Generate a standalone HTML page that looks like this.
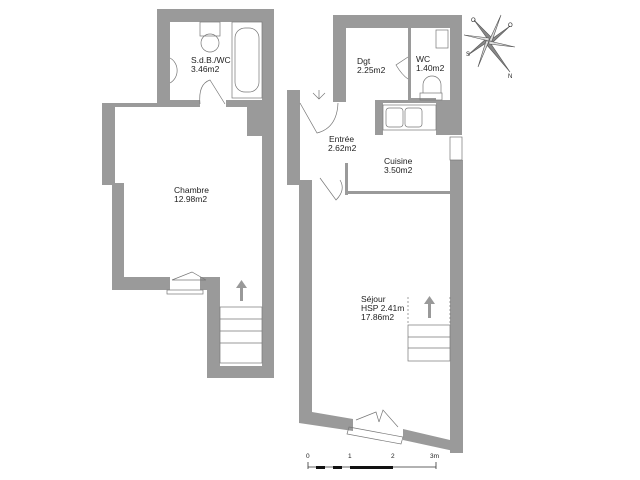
<!DOCTYPE html>
<html><head><meta charset="utf-8"><style>
body{margin:0;background:#fff}
svg{display:block}
text{font-family:"Liberation Sans",sans-serif;font-size:8.5px;fill:#222}
</style></head><body>
<svg width="640" height="480" viewBox="0 0 640 480">
<g fill="#9a9a9a">
<rect x="157" y="9" width="117" height="13"/>
<rect x="157" y="9" width="13" height="98"/>
<rect x="262" y="9" width="12" height="98"/>
<rect x="157" y="100" width="43" height="7"/>
<rect x="226" y="100" width="48" height="7"/>
<rect x="102" y="103" width="68" height="4"/>
<rect x="102" y="103" width="13" height="82"/>
<rect x="112" y="183" width="12" height="107"/>
<rect x="112" y="277" width="58" height="13"/>
<rect x="247" y="103" width="27" height="33"/>
<rect x="262" y="103" width="12" height="275"/>
<rect x="200" y="277" width="20" height="13"/>
<rect x="207" y="277" width="13" height="101"/>
<rect x="207" y="366" width="67" height="12"/>
<rect x="333" y="15" width="129" height="13"/>
<rect x="333" y="15" width="13" height="87"/>
<rect x="408" y="28" width="3" height="72"/>
<rect x="408" y="98" width="28" height="3"/>
<rect x="450" y="15" width="12" height="120"/>
<rect x="436" y="100" width="26" height="35"/>
<rect x="375" y="100" width="8" height="35"/>
<rect x="375" y="100" width="61" height="3"/>
<rect x="450" y="160" width="13" height="293"/>
<rect x="287" y="90" width="13" height="95"/>
<rect x="299" y="180" width="13" height="243"/>
<rect x="345" y="163" width="3" height="32"/>
<rect x="345" y="191" width="105" height="3"/>
<polygon points="299,410 312,412 353,419 353,431 299,423"/>
<polygon points="403,429 450,440 463,443 463,453 403,440"/>
</g>
<g fill="none" stroke="#777" stroke-width="0.7">
<rect x="232" y="22" width="30" height="76"/>
<rect x="235" y="28" width="24" height="64" rx="10"/>
<rect x="200" y="22" width="20" height="14"/>
<ellipse cx="210" cy="43" rx="9" ry="9"/>
<path d="M170,58 a13,14 0 0 1 0,25"/>
<path d="M200,104 q-2,-20 10,-24 l15,24"/>
<rect x="167" y="290" width="36" height="4"/>
<path d="M172,280 l20,-8 l14,8 M172,280 l34,0"/>
<rect x="220" y="307" width="42" height="56"/>
<line x1="220" y1="319" x2="262" y2="319"/><line x1="220" y1="331" x2="262" y2="331"/><line x1="220" y1="343" x2="262" y2="343"/>
<rect x="436" y="30" width="12" height="18"/>
<rect x="420" y="93" width="22" height="7"/>
<path d="M423,93 v-8 a9,9 0 0 1 18,0 v8"/>
<path d="M408,57 l-12,8 q6,10 12,14"/>
<rect x="383" y="105" width="53" height="25"/>
<rect x="386" y="108" width="17" height="19" rx="3"/><rect x="405" y="108" width="17" height="19" rx="3"/>
<path d="M300,103 l17,30 q20,-5 21,-30"/>
<path d="M320,178 l16,22 q10,-10 4,-20"/>
<path d="M313,93 l6,6 l6,-6 M319,99 v-9"/>
<rect x="450" y="137" width="12" height="23"/>
<rect x="408" y="325" width="42" height="36"/>
<line x1="408" y1="337" x2="450" y2="337"/><line x1="408" y1="348" x2="450" y2="348"/>
<line x1="408" y1="297" x2="408" y2="325" stroke-dasharray="2,2"/>
<line x1="450" y1="297" x2="450" y2="325" stroke-dasharray="2,2"/>
<polygon points="349,427 403,437 401,444 347,434"/>
<path d="M356,420 l20,-8 l3,10 M379,422 l4,-12 l15,17"/>
</g>
<g fill="#999">
<rect x="240" y="287" width="3" height="14"/><polygon points="236,288 247,288 241.5,280"/>
<rect x="428" y="303" width="3" height="15"/><polygon points="424,304 435,304 429.5,296"/>
</g>
<g stroke="#555" stroke-width="0.6" fill="#888">
<polygon points="489,41 474,20 492,38"/><polygon points="489,41 510,72 486,44"/>
<polygon points="489,41 510,26 491,44"/><polygon points="489,41 468,55 487,38"/>
<polygon points="489,41 501,15 492,41" fill="#ddd"/><polygon points="489,41 478,67 486,41" fill="#ddd"/>
<polygon points="489,41 515,47 489,44" fill="#ddd"/><polygon points="489,41 464,35 489,38" fill="#ddd"/>
</g>
<text x="471" y="22" style="font-size:6px">O</text><text x="508" y="27" style="font-size:6px">O</text>
<text x="466" y="56" style="font-size:6px">S</text><text x="508" y="78" style="font-size:6px">N</text>
<text x="191" y="63">S.d.B./WC</text><text x="191" y="72">3.46m2</text>
<text x="174" y="193">Chambre</text><text x="174" y="202">12.98m2</text>
<text x="357" y="64">Dgt</text><text x="357" y="73">2.25m2</text>
<text x="416" y="62">WC</text><text x="416" y="71">1.40m2</text>
<text x="329" y="142">Entrée</text><text x="328" y="151">2.62m2</text>
<text x="384" y="164">Cuisine</text><text x="384" y="173">3.50m2</text>
<text x="361" y="302">Séjour</text><text x="361" y="311">HSP 2.41m</text><text x="361" y="320">17.86m2</text>
<text x="306" y="458" style="font-size:6.5px">0</text><text x="348" y="458" style="font-size:6.5px">1</text><text x="391" y="458" style="font-size:6.5px">2</text><text x="430" y="458" style="font-size:6.5px">3m</text>
<g stroke="#333" stroke-width="0.8" fill="none">
<line x1="308" y1="467" x2="436" y2="467"/>
<line x1="308" y1="462" x2="308" y2="469"/><line x1="436" y1="462" x2="436" y2="469"/>
</g>
<rect x="316" y="466" width="9" height="3" fill="#111"/><rect x="333" y="466" width="9" height="3" fill="#111"/>
<rect x="350" y="466" width="43" height="3" fill="#111"/>
</svg>
</body></html>
